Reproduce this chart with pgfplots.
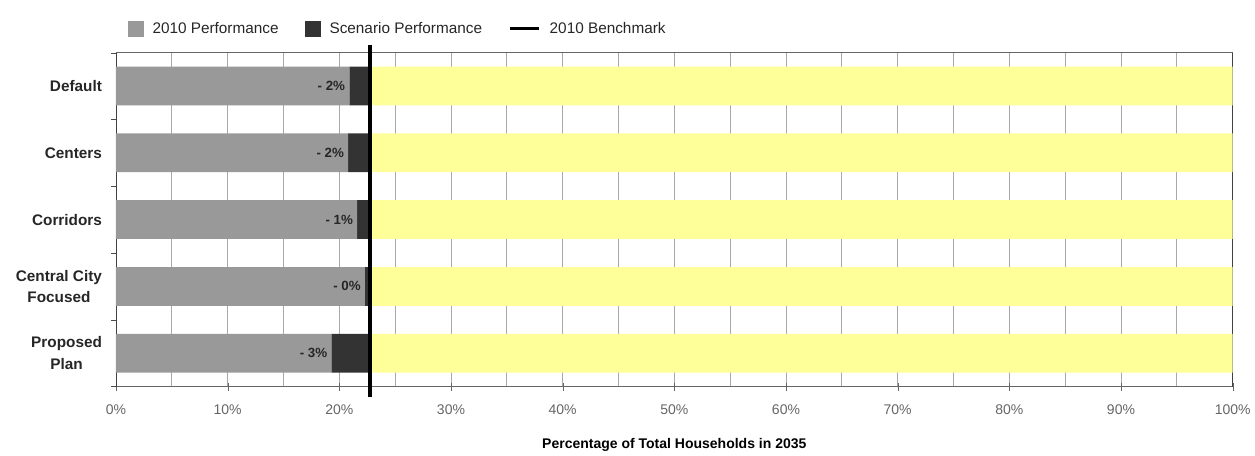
\documentclass[border=0pt]{standalone}
\usepackage{pgfplots}
\pgfplotsset{compat=1.18}
\usepackage{fontspec}
\setmainfont{Liberation Sans}
\definecolor{perf}{HTML}{999999}
\definecolor{scen}{HTML}{333333}
\definecolor{rest}{HTML}{FFFF99}
\definecolor{gridc}{HTML}{A8A8A8}
\begin{document}
\begin{tikzpicture}
\begin{axis}[
  name=ax,
  scale only axis,
  width=837.75pt, height=250.5pt,
  xbar stacked,
  bar width=0.58,
  xmin=0, xmax=100,
  ymin=-0.5, ymax=4.5,
  y dir=reverse,
  tick pos=left,
  ytick={0,1,2,3,4},
  yticklabels={Default, Centers, Corridors, {Central City\\Focused}, {Proposed\\Plan}},
  yticklabel style={align=center, font=\fontsize{11.5}{16}\selectfont\bfseries, text=black!85, xshift=-1pt},
  major y tick style={draw=none},
  minor ytick={-0.5,0.5,1.5,2.5,3.5,4.5},
  minor y tick style={draw=black!70},
  ytick align=outside,
  xtick={0,10,...,100},
  minor xtick={5,15,...,95},
  xmajorgrids, xminorgrids,
  grid style={gridc, line width=0.6pt},
  minor grid style={gridc, line width=0.6pt},
  major x tick style={draw=black!60},
  minor x tick style={draw=none},
  xtick align=center,
  major tick length=6pt,
  minor tick length=4pt,
  /pgf/number format/assume math mode=true,
  xticklabel={\pgfmathprintnumber{\tick}\%},
  xticklabel style={font=\fontsize{10.5}{12}\selectfont, text=black!60, yshift=-7pt},
  xlabel={Percentage of Total Households in 2035},
  xlabel style={font=\fontsize{10.5}{12}\selectfont\bfseries, yshift=-11pt},
  separate axis lines,
  x axis line style={black!60},
  y axis line style={black!75},
  clip=false,
]
\addplot[fill=perf, draw=none] coordinates {(20.9,0) (20.8,1) (21.6,2) (22.3,3) (19.3,4)};
\addplot[fill=scen, draw=none] coordinates {(1.8,0) (1.9,1) (1.1,2) (0.4,3) (3.4,4)};
\addplot[fill=rest, draw=none] coordinates {(77.3,0) (77.3,1) (77.3,2) (77.3,3) (77.3,4)};
\end{axis}
\begin{axis}[
  scale only axis,
  width=837.75pt, height=250.5pt,
  xmin=0, xmax=100,
  ymin=-0.5, ymax=4.5,
  y dir=reverse,
  hide axis,
  clip=false,
  legend columns=3,
  legend style={at={(0,1)}, anchor=west, xshift=6pt, yshift=18pt, draw=none, fill=none,
    font=\fontsize{11.5}{13}\selectfont, text=black!85,
    /tikz/every odd column/.append style={column sep=5pt},
    /tikz/every even column/.append style={column sep=18pt}},
]
\addlegendimage{legend image code/.code={\fill[perf] (0cm,-0.19cm) rectangle (0.38cm,0.19cm);}}
\addlegendentry{2010 Performance}
\addlegendimage{legend image code/.code={\fill[scen] (0cm,-0.19cm) rectangle (0.38cm,0.19cm);}}
\addlegendentry{Scenario Performance}
\addlegendimage{legend image code/.code={\draw[black, line width=2.4pt] (0cm,0cm) -- (0.75cm,0cm);}}
\addlegendentry{2010 Benchmark}
\addplot[draw=black, line width=2.4pt, mark=none, forget plot]
  coordinates {(22.75,-0.62) (22.75,4.65)};
\addplot[draw=none, mark=none, forget plot,
  nodes near coords, point meta=explicit symbolic,
  every node near coord/.append style={anchor=east, font=\fontsize{10}{11}\selectfont\bfseries, text=black!85, xshift=-1pt, yshift=0pt, inner sep=2pt}]
  coordinates {(20.9,0) [- 2\%] (20.8,1) [- 2\%] (21.6,2) [- 1\%] (22.3,3) [- 0\%] (19.3,4) [- 3\%]};
\end{axis}
\path[use as bounding box] (ax.south west) ++(-87pt,-49pt) rectangle ++(941.25pt,339pt);
\end{tikzpicture}
\end{document}
